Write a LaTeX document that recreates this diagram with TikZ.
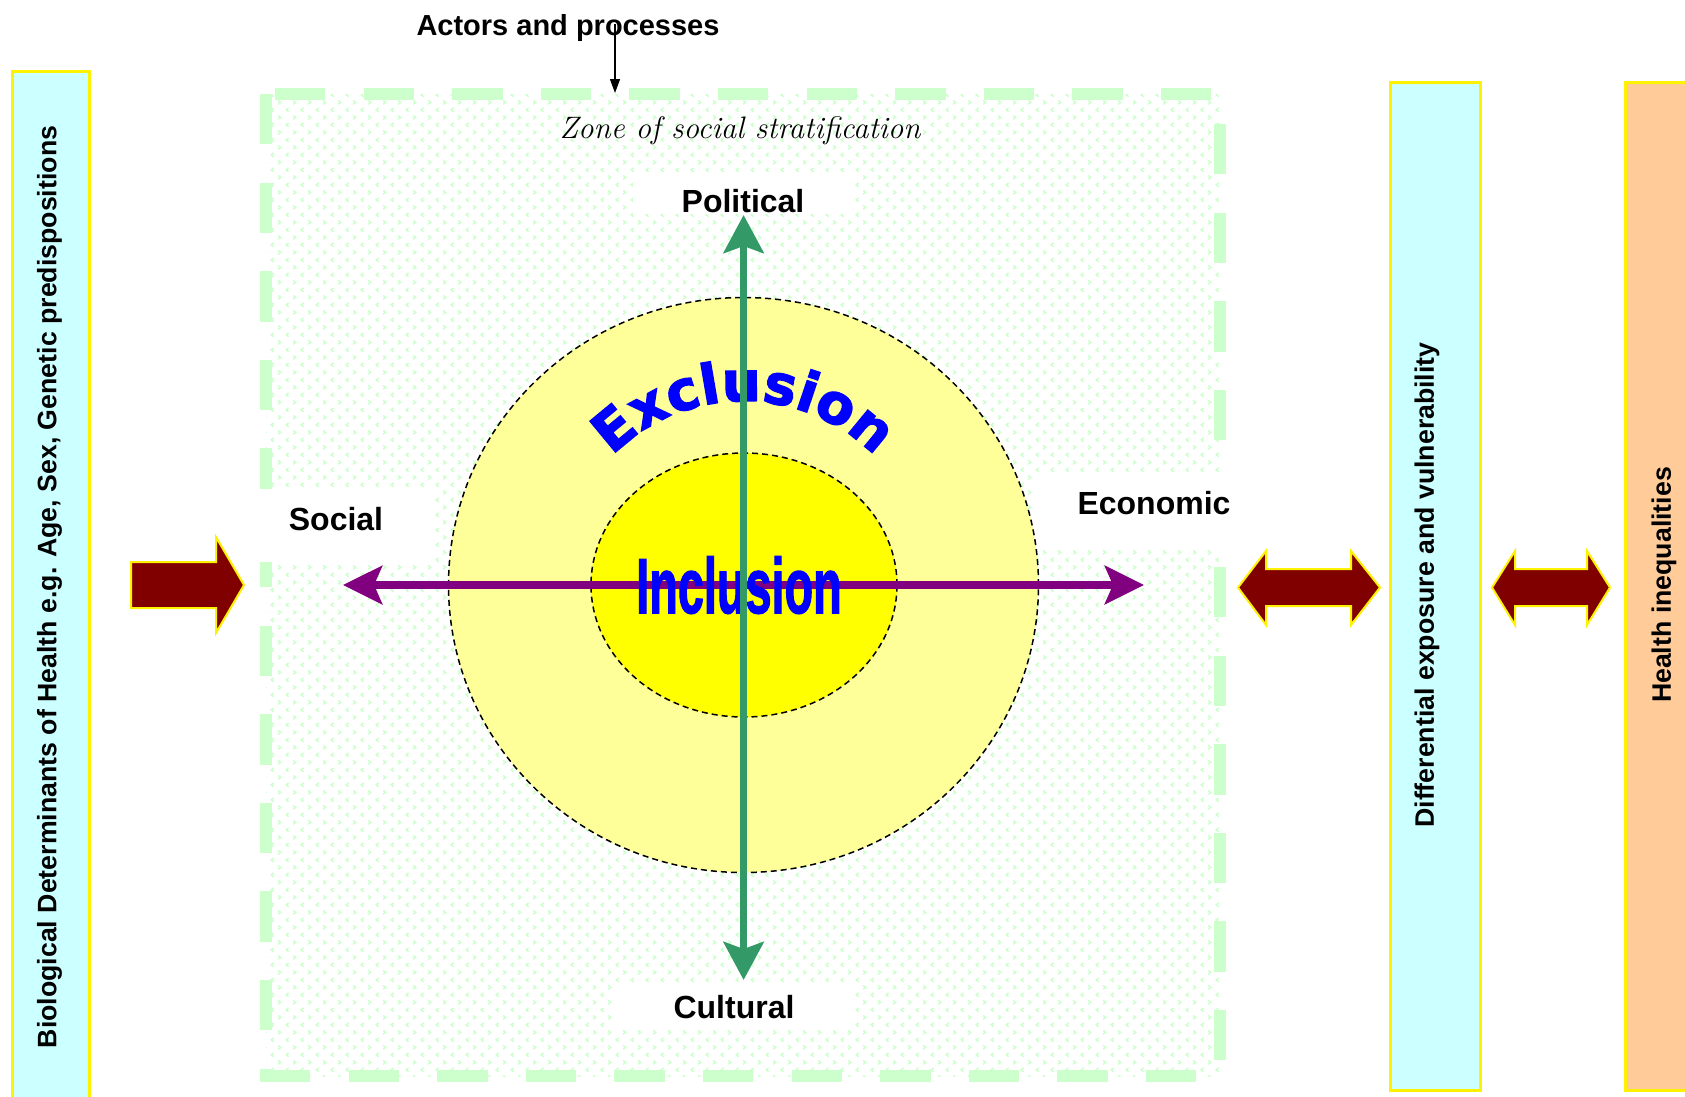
\documentclass[tikz,border=0pt]{standalone}
\usepackage{fontspec}
\usepackage{graphicx}
\usetikzlibrary{arrows.meta,decorations.text,patterns.meta,shapes.geometric}
\newfontfamily\arial{Liberation Sans}
\newfontfamily\inclfont{Liberation Sans}[BoldFeatures={FakeBold=2}]
\newfontfamily\exclfont{DejaVu Sans}[BoldFeatures={FakeBold=2.5}]
\definecolor{cyanbox}{HTML}{CCFFFF}
\definecolor{orangebox}{HTML}{FFCC99}
\definecolor{zonegreen}{HTML}{CCFFCC}
\definecolor{maroonfill}{HTML}{800000}
\definecolor{outeryellow}{HTML}{FFFF99}
\definecolor{inneryellow}{HTML}{FFFF00}
\definecolor{axisgreen}{HTML}{339966}
\definecolor{axispurple}{HTML}{800080}
\tikzdeclarepattern{
  name=chevrons,
  type=colored,
  bottom left={(0pt,0pt)},
  top right={(15.4pt,15.4pt)},
  tile size={(15.4pt,15.4pt)},
  code={
    \draw[zonegreen, line width=1.5pt] (2.3pt,5.8pt) -- (4.8pt,3.8pt) -- (2.3pt,1.8pt);
    \draw[zonegreen, line width=1.5pt] (13.1pt,13.6pt) -- (10.6pt,11.6pt) -- (13.1pt,9.6pt);
  }
}
\tikzset{
  sidebox/.style={draw=yellow, line width=2.5pt, inner sep=0pt, anchor=north west},
  axislabel/.style={font={\arial\bfseries\fontsize{32pt}{32pt}\selectfont}, anchor=base, inner sep=0pt},
  whitebox/.style={fill=white, draw=none, inner sep=0pt, anchor=north west},
  vlabel/.style={font={\arial\bfseries\fontsize{26.7pt}{26.7pt}\selectfont}, rotate=90, inner sep=0pt},
  bigarrow/.style={fill=maroonfill, draw=yellow, line width=2pt, line join=miter},
  zoneedge/.style={zonegreen, line width=12.5pt, dash pattern=on 50.3pt off 38.3pt},
  ring/.style={ellipse, draw=black, line width=1.5pt, dash pattern=on 6pt off 4pt, inner sep=0pt},
}
\begin{document}
\begin{tikzpicture}[x=1pt,y=-1pt]
\useasboundingbox (0,0) rectangle (1685,1096);
\fill[white] (0,0) rectangle (1685,1096);

% side boxes
\node[sidebox, fill=cyanbox, minimum width=77pt, minimum height=1050pt] (biobox) at (11,70) {};
\node[vlabel] (biotext) at (49.5,587) {Biological Determinants of Health e.g. Age, Sex, Genetic predispositions};
\node[sidebox, fill=cyanbox, minimum width=90pt, minimum height=1008pt] (diffbox) at (1389,81) {};
\node[vlabel] (difftext) at (1427,585) {Differential exposure and vulnerability};
\node[sidebox, fill=orangebox, minimum width=90pt, minimum height=1008pt] (healthbox) at (1624,81) {};
\node[vlabel] (healthtext) at (1664,585) {Health inequalities};

% zone of social stratification
\fill[pattern=chevrons] (266,94) rectangle (1220,1076);
\draw[zoneedge] (275,94) -- (1213,94);
\draw[zoneedge] (266,94) -- (266,1070);
\draw[zoneedge] (260,1076) -- (1200,1076);
\draw[zoneedge] (1220,124) -- (1220,1074);

% white label areas
\node[whitebox, minimum width=219pt, minimum height=42pt] (polbox) at (633,172) {};
\node[whitebox, minimum width=238pt, minimum height=45pt] (culbox) at (615,983) {};
\node[whitebox, minimum width=177pt, minimum height=73pt] (socbox) at (255,489) {};
\node[whitebox, minimum width=197pt, minimum height=72pt] (ecobox) at (1033,475) {};

\node[axislabel] (political) at (743,212) {Political};
\node[axislabel] (cultural) at (734,1018) {Cultural};
\node[axislabel] (social) at (336,530) {Social};
\node[axislabel] (economic) at (1154,514) {Economic};

% title and zone label
\node[font={\arial\bfseries\fontsize{29pt}{29pt}\selectfont}, anchor=base, inner sep=0pt] (actors) at (568,35.5) {Actors and processes};
\node[font={\itshape\fontsize{31pt}{31pt}\selectfont}, anchor=base, inner sep=0pt] (zone) at (740,138) {Zone of social stratification};
\coordinate (actorsfoot) at (615,24);
\coordinate (zonetop) at (615,93);
\draw[line width=1.3pt, -{Triangle[length=14pt,width=10pt]}] (actorsfoot) -- (zonetop);

% rings
\node[ring, fill=outeryellow, minimum width=590pt, minimum height=575pt] (outer) at (743.5,585) {};
\node[ring, fill=inneryellow, minimum width=306pt, minimum height=264pt] (inner) at (744,585) {};

% Exclusion along arc
\path[decorate, decoration={text along path, text align=center, text color=blue,
  text={|\exclfont\bfseries\fontsize{55pt}{55pt}\selectfont|Exclusion}}]
  (743.5,585) ++(160:184pt) arc[start angle=160, end angle=20, radius=184pt];

% axes
\coordinate (soctip) at (343,585);
\coordinate (ecotip) at (1144,585);
\draw[axispurple, line width=8.5pt, {Stealth[length=39pt,width=38pt,inset=8pt]}-{Stealth[length=39pt,width=38pt,inset=8pt]}] (soctip) -- (ecotip);

\node[inner sep=0pt, anchor=base, text=blue] (inclusion) at (739,613) {\scalebox{0.6}[1]{\inclfont\bfseries\fontsize{78pt}{78pt}\selectfont Inclusion}};

\coordinate (poltip) at (743.6,215);
\coordinate (cultip) at (743.6,980);
\draw[axisgreen, line width=7.3pt, {Stealth[length=38pt,width=40pt,inset=7pt]}-{Stealth[length=38pt,width=40pt,inset=7pt]}] (poltip) -- (cultip);

% big maroon arrows
\draw[bigarrow] (131,562) -- (216,562) -- (216,537) -- (244,585) -- (216,633) -- (216,608) -- (131,608) -- cycle;
\draw[bigarrow] (1238,587.5) -- (1266,551) -- (1266,569) -- (1351,569) -- (1351,551) -- (1380,587.5) -- (1351,625) -- (1351,606) -- (1266,606) -- (1266,625) -- cycle;
\draw[bigarrow] (1492,587.5) -- (1515,551) -- (1515,569) -- (1587,569) -- (1587,551) -- (1610,587.5) -- (1587,625) -- (1587,606) -- (1515,606) -- (1515,625) -- cycle;
\end{tikzpicture}
\end{document}
